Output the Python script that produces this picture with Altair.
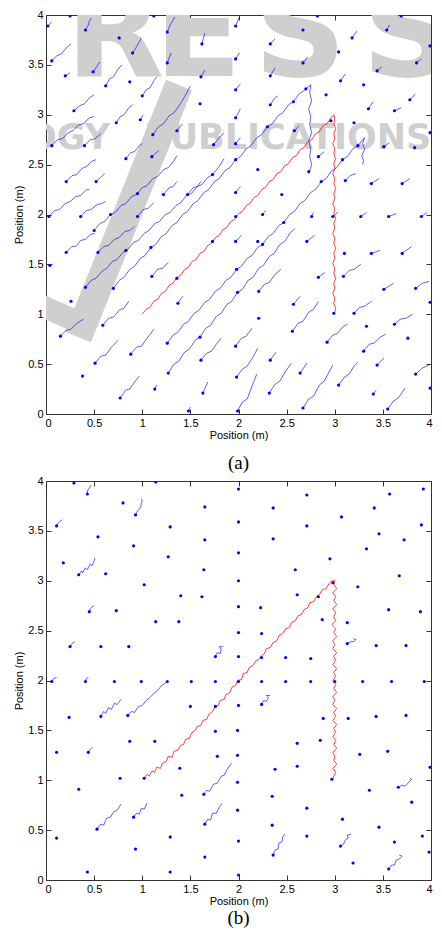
import altair as alt
import pandas as pd

# ---------------- values ----------------
TICKS = [0, 0.5, 1, 1.5, 2, 2.5, 3, 3.5, 4]
AXIS_TITLE = "Position (m)"
CAPTIONS = ["(a)", "(b)"]

# panel (a): blue trails (first point = agent dot)
A_LONG = [
    # upper long lines
    [(0.50, 1.84), (0.56, 1.91), (0.61, 1.93), (0.67, 2.00), (0.72, 2.02), (0.78, 2.09),
     (0.83, 2.11), (0.89, 2.18), (0.94, 2.20), (1.00, 2.27), (1.05, 2.29), (1.11, 2.36),
     (1.16, 2.38), (1.22, 2.45), (1.27, 2.47), (1.33, 2.54), (1.36, 2.59)],
    [(0.41, 1.27), (0.47, 1.34), (0.52, 1.36), (0.58, 1.43), (0.63, 1.46), (0.69, 1.53),
     (0.74, 1.55), (0.80, 1.62), (0.85, 1.65), (0.91, 1.72), (0.96, 1.74), (1.02, 1.81),
     (1.07, 1.84), (1.13, 1.91), (1.18, 1.93), (1.24, 2.00), (1.29, 2.02), (1.35, 2.09),
     (1.40, 2.12), (1.46, 2.19), (1.51, 2.21), (1.57, 2.28), (1.62, 2.30), (1.68, 2.37),
     (1.73, 2.40), (1.79, 2.47), (1.85, 2.56)],
    [(0.70, 1.26), (0.76, 1.34), (0.81, 1.37), (0.87, 1.45), (0.92, 1.48), (0.98, 1.56),
     (1.03, 1.59), (1.09, 1.67), (1.14, 1.70), (1.20, 1.78), (1.25, 1.81), (1.31, 1.89),
     (1.36, 1.92), (1.42, 2.00), (1.47, 2.03), (1.53, 2.11), (1.58, 2.14), (1.64, 2.22),
     (1.69, 2.25), (1.75, 2.33), (1.80, 2.36), (1.86, 2.44), (1.91, 2.47), (1.97, 2.55),
     (2.02, 2.58), (2.08, 2.66), (2.13, 2.69), (2.19, 2.77), (2.24, 2.80), (2.30, 2.88),
     (2.35, 2.91), (2.41, 2.99), (2.46, 3.02), (2.52, 3.10), (2.57, 3.13), (2.63, 3.21),
     (2.68, 3.24), (2.75, 3.30), (2.74, 3.22), (2.76, 3.14), (2.73, 3.06), (2.75, 2.98),
     (2.74, 2.90), (2.76, 2.82), (2.73, 2.74), (2.75, 2.66), (2.74, 2.58), (2.76, 2.50),
     (2.73, 2.41)],
    [(1.11, 2.80), (1.17, 2.88), (1.22, 2.91), (1.28, 2.99), (1.33, 3.02), (1.39, 3.10),
     (1.44, 3.18), (1.50, 3.29)],
    # lower long lines
    [(1.26, 0.71), (1.32, 0.79), (1.37, 0.82), (1.43, 0.90), (1.48, 0.93), (1.54, 1.01),
     (1.59, 1.04), (1.65, 1.12), (1.70, 1.15), (1.76, 1.23), (1.81, 1.26), (1.87, 1.34),
     (1.92, 1.37), (1.98, 1.45), (2.03, 1.48), (2.09, 1.56), (2.14, 1.59), (2.20, 1.67),
     (2.25, 1.70), (2.31, 1.78), (2.36, 1.81), (2.42, 1.89), (2.47, 1.92), (2.53, 2.00),
     (2.58, 2.03), (2.64, 2.11), (2.69, 2.14), (2.75, 2.22), (2.80, 2.25), (2.86, 2.33),
     (2.91, 2.36), (2.97, 2.44), (3.02, 2.47), (3.08, 2.55), (3.13, 2.58), (3.19, 2.66),
     (3.24, 2.69), (3.31, 2.77), (3.29, 2.71), (3.31, 2.65), (3.28, 2.59), (3.30, 2.54),
     (3.29, 2.50)],
    [(1.27, 0.41), (1.33, 0.50), (1.38, 0.53), (1.44, 0.62), (1.49, 0.65), (1.55, 0.74),
     (1.60, 0.77), (1.66, 0.86), (1.71, 0.89), (1.77, 0.98), (1.82, 1.01), (1.88, 1.10),
     (1.93, 1.13), (1.99, 1.22), (2.04, 1.25), (2.10, 1.34), (2.15, 1.37), (2.21, 1.46),
     (2.26, 1.49), (2.32, 1.58), (2.37, 1.61), (2.43, 1.70), (2.48, 1.73), (2.54, 1.82),
     (2.59, 1.86)],
]

A_TRAILS = [
    [(0.02, 3.89), (0.06, 3.93)],
    [(0.41, 3.85), (0.44, 3.90), (0.45, 3.94), (0.47, 3.97)],
    [(0.90, 3.62), (0.94, 3.68), (0.99, 3.77)],
    [(1.26, 3.83), (1.29, 3.90), (1.34, 3.98)],
    [(1.62, 3.71), (1.65, 3.82)],
    [(0.06, 3.54), (0.11, 3.59), (0.16, 3.61), (0.21, 3.67), (0.26, 3.71)],
    [(0.20, 3.39), (0.25, 3.42)],
    [(0.49, 3.43), (0.56, 3.53)],
    [(0.62, 3.29), (0.66, 3.36), (0.70, 3.38), (0.75, 3.46), (0.79, 3.50)],
    [(1.26, 3.52), (1.30, 3.62)],
    [(1.61, 3.38), (1.65, 3.45)],
    [(1.00, 3.19), (1.04, 3.25), (1.08, 3.27), (1.12, 3.34), (1.15, 3.38)],
    [(0.29, 3.04), (0.35, 3.09), (0.40, 3.11), (0.45, 3.17), (0.50, 3.20)],
    [(0.73, 2.92), (0.77, 2.98), (0.81, 3.00), (0.86, 3.07), (0.90, 3.10)],
    [(0.98, 2.95), (1.01, 3.00)],
    [(1.36, 2.84), (1.42, 2.91)],
    [(0.06, 2.69), (0.12, 2.75), (0.17, 2.76), (0.23, 2.82), (0.28, 2.84), (0.34, 2.90),
     (0.39, 2.91), (0.45, 2.97), (0.50, 2.98)],
    [(0.40, 2.69), (0.46, 2.75), (0.51, 2.76), (0.57, 2.81)],
    [(0.83, 2.56), (0.88, 2.62), (0.92, 2.63), (0.97, 2.69), (1.00, 2.71)],
    [(1.10, 2.58), (1.17, 2.64)],
    [(1.74, 2.70), (1.80, 2.77), (1.85, 2.82)],
    [(0.21, 2.33), (0.27, 2.39), (0.32, 2.40), (0.37, 2.46), (0.42, 2.48), (0.47, 2.53),
     (0.52, 2.55)],
    [(0.52, 2.33), (0.61, 2.41)],
    [(0.03, 1.98), (0.09, 2.04), (0.14, 2.05), (0.20, 2.11), (0.25, 2.13), (0.31, 2.18),
     (0.36, 2.19), (0.42, 2.25), (0.45, 2.25)],
    [(0.36, 1.98), (0.42, 2.04), (0.47, 2.05), (0.53, 2.10), (0.58, 2.11), (0.62, 2.13)],
    [(0.95, 1.98), (1.01, 2.05), (1.06, 2.06), (1.12, 2.12)],
    [(1.22, 2.20), (1.28, 2.27), (1.32, 2.28), (1.36, 2.33)],
    [(1.47, 2.20), (1.53, 2.27), (1.57, 2.28), (1.61, 2.33)],
    [(1.97, 3.89), (2.01, 3.98)],
    [(3.18, 3.77), (3.23, 3.84)],
    [(3.54, 3.85), (3.57, 3.90)],
    [(2.33, 3.71), (2.38, 3.76)],
    [(1.97, 3.56), (2.01, 3.62)],
    [(2.67, 3.52), (2.72, 3.58)],
    [(3.85, 3.52), (3.90, 3.56)],
    [(2.33, 3.39), (2.38, 3.47)],
    [(3.06, 3.34), (3.11, 3.41)],
    [(3.44, 3.44), (3.49, 3.48)],
    [(1.97, 3.25), (2.02, 3.31)],
    [(2.33, 3.10), (2.37, 3.16), (2.41, 3.19)],
    [(3.78, 3.15), (3.84, 3.21)],
    [(3.35, 3.06), (3.40, 3.13)],
    [(3.62, 3.04), (3.69, 3.07)],
    [(1.97, 2.97), (2.02, 3.06)],
    [(2.58, 2.84), (2.63, 2.89)],
    [(1.97, 2.71), (2.02, 2.77)],
    [(3.51, 2.68), (3.57, 2.72)],
    [(2.83, 2.58), (2.89, 2.63)],
    [(1.97, 2.22), (2.02, 2.28)],
    [(3.11, 2.34), (3.16, 2.39), (3.22, 2.41)],
    [(3.38, 2.31), (3.46, 2.36)],
    [(3.70, 2.31), (3.78, 2.36)],
    [(2.25, 2.00), (2.28, 2.04)],
    [(2.76, 1.98), (2.78, 2.02)],
    [(3.27, 1.98), (3.33, 2.02)],
    [(3.56, 1.98), (3.64, 2.01)],
    [(3.90, 1.98), (3.96, 2.02)],
    [(0.04, 1.49), (0.07, 1.50)],
    [(0.21, 1.62), (0.27, 1.68), (0.31, 1.68), (0.36, 1.74), (0.41, 1.75), (0.46, 1.80),
     (0.51, 1.81)],
    [(0.54, 1.62), (0.60, 1.68), (0.65, 1.69), (0.71, 1.75), (0.76, 1.77), (0.82, 1.83),
     (0.87, 1.84), (0.92, 1.88)],
    [(0.15, 0.78), (0.21, 0.84), (0.26, 0.85), (0.32, 0.91), (0.39, 0.95)],
    [(0.59, 0.89), (0.65, 0.96), (0.70, 0.97), (0.76, 1.04), (0.81, 1.06), (0.86, 1.13)],
    [(1.10, 1.38), (1.16, 1.45), (1.21, 1.46), (1.27, 1.52)],
    [(1.37, 1.11), (1.42, 1.18)],
    [(0.51, 0.51), (0.57, 0.58), (0.62, 0.59), (0.68, 0.67), (0.75, 0.74)],
    [(0.88, 0.60), (0.94, 0.67), (0.99, 0.68), (1.05, 0.76), (1.12, 0.85)],
    [(1.61, 0.54), (1.67, 0.61), (1.72, 0.63), (1.77, 0.70), (1.82, 0.76)],
    [(0.77, 0.16), (0.83, 0.24), (0.87, 0.25), (0.92, 0.32), (0.97, 0.38)],
    [(1.13, 0.25), (1.15, 0.29)],
    [(1.63, 0.21), (1.68, 0.32)],
    [(1.48, 0.03), (1.50, 0.07)],
    [(2.21, 1.23), (2.27, 1.30), (2.32, 1.32), (2.38, 1.40), (2.44, 1.45)],
    [(1.97, 0.68), (2.03, 0.76), (2.08, 0.78), (2.14, 0.86)],
    [(1.98, 0.37), (2.04, 0.45), (2.09, 0.48), (2.15, 0.57), (2.20, 0.66)],
    [(1.99, 0.03), (2.04, 0.12), (2.09, 0.15), (2.14, 0.28), (2.19, 0.40)],
    [(2.32, 0.21), (2.38, 0.30), (2.43, 0.33), (2.49, 0.43), (2.55, 0.51)],
    [(2.33, 0.54), (2.39, 0.62)],
    [(2.56, 0.83), (2.62, 0.91), (2.67, 0.93), (2.73, 1.02), (2.78, 1.05), (2.83, 1.13)],
    [(2.57, 1.10), (2.64, 1.18)],
    [(2.64, 0.41), (2.71, 0.51)],
    [(2.67, 0.06), (2.73, 0.15), (2.78, 0.18), (2.84, 0.29), (2.89, 0.33), (2.94, 0.42),
     (2.98, 0.49)],
    [(2.83, 1.37), (2.90, 1.42)],
    [(2.92, 0.72), (2.98, 0.79), (3.03, 0.81), (3.08, 0.87), (3.13, 0.90)],
    [(1.97, 1.73), (2.03, 1.79)],
    [(2.71, 1.73), (2.79, 1.79)],
    [(3.38, 1.61), (3.47, 1.64)],
    [(3.70, 1.61), (3.80, 1.68)],
    [(3.09, 1.38), (3.15, 1.44), (3.20, 1.45), (3.27, 1.50)],
    [(3.51, 1.25), (3.61, 1.31)],
    [(3.84, 1.26), (3.91, 1.31), (3.98, 1.33)],
    [(3.20, 1.01), (3.26, 1.07), (3.31, 1.08), (3.38, 1.13)],
    [(3.62, 0.90), (3.68, 0.95), (3.74, 0.96), (3.81, 1.00)],
    [(3.30, 0.63), (3.36, 0.70), (3.41, 0.71), (3.47, 0.77), (3.53, 0.80)],
    [(3.44, 0.49), (3.51, 0.56)],
    [(3.84, 0.40), (3.91, 0.46), (3.98, 0.49)],
    [(3.04, 0.29), (3.10, 0.37), (3.15, 0.40), (3.20, 0.48), (3.24, 0.52)],
    [(3.40, 0.20), (3.43, 0.24)],
    [(3.55, 0.05), (3.61, 0.13), (3.66, 0.16), (3.73, 0.26)],
    [(2.98, 1.98), (3.03, 2.02)],
]

A_DOTS = [
    (0.25, 3.99), (0.76, 3.77), (1.12, 3.99), (0.87, 3.33), (1.60, 3.11),
    (2.82, 3.99), (3.69, 3.99), (2.67, 3.85), (3.04, 3.63), (3.99, 3.69),
    (3.30, 3.30), (2.91, 3.20), (3.20, 2.92), (3.83, 2.67), (3.99, 2.82),
    (2.20, 2.45), (2.45, 2.20), (0.26, 1.13), (0.38, 0.38), (3.10, 1.61),
    (3.99, 1.12), (2.21, 0.96), (3.33, 0.88), (3.76, 0.76), (3.99, 0.26),
    (0.67, 2.00), (0.95, 2.21), (0.83, 1.64), (1.73, 2.40), (1.97, 2.55),
    (2.30, 2.88), (2.57, 3.13), (2.70, 3.26), (2.73, 2.43), (1.36, 1.36),
    (1.73, 1.73), (1.97, 1.98), (1.98, 1.45), (2.25, 1.70), (2.47, 1.92),
    (2.86, 2.33), (3.08, 2.55), (3.24, 2.69), (2.96, 2.94), (2.20, 1.73),
    (2.99, 1.01), (1.09, 1.67), (1.60, 0.77), (1.99, 1.22),
]

A_RED = [
    (1.00, 1.00), (1.04, 1.05), (1.08, 1.07), (1.12, 1.13), (1.16, 1.15), (1.20, 1.21),
    (1.24, 1.23), (1.28, 1.29), (1.32, 1.31), (1.36, 1.37), (1.40, 1.39), (1.44, 1.45),
    (1.48, 1.47), (1.52, 1.53), (1.56, 1.55), (1.60, 1.61), (1.64, 1.63), (1.68, 1.69),
    (1.72, 1.71), (1.76, 1.77), (1.80, 1.79), (1.84, 1.85), (1.88, 1.87), (1.92, 1.93),
    (1.96, 1.95), (2.00, 2.01), (2.04, 2.03), (2.08, 2.09), (2.12, 2.11), (2.16, 2.17),
    (2.20, 2.19), (2.24, 2.25), (2.28, 2.27), (2.32, 2.33), (2.36, 2.35), (2.40, 2.41),
    (2.44, 2.43), (2.48, 2.49), (2.52, 2.51), (2.56, 2.57), (2.60, 2.59), (2.64, 2.65),
    (2.68, 2.67), (2.72, 2.73), (2.76, 2.75), (2.80, 2.81), (2.84, 2.83), (2.88, 2.89),
    (2.92, 2.91), (2.96, 2.97), (2.99, 3.00),
    (3.00, 2.96), (2.99, 2.91), (3.01, 2.86), (2.99, 2.81), (3.00, 2.76), (2.98, 2.71),
    (3.00, 2.66), (2.99, 2.61), (3.01, 2.56), (2.99, 2.51), (3.00, 2.46), (2.98, 2.41),
    (3.00, 2.36), (2.99, 2.31), (3.01, 2.26), (2.99, 2.21), (3.00, 2.16), (2.98, 2.11),
    (3.00, 2.06), (2.99, 2.01), (3.01, 1.96), (2.99, 1.91), (3.00, 1.86), (2.98, 1.81),
    (3.00, 1.76), (2.99, 1.71), (3.01, 1.66), (2.99, 1.61), (3.00, 1.56), (2.98, 1.51),
    (3.00, 1.46), (2.99, 1.41), (3.01, 1.36), (2.99, 1.31), (3.00, 1.26), (2.98, 1.21),
    (3.00, 1.16), (2.99, 1.11), (3.01, 1.06), (3.00, 1.02),
]

# panel (b)
B_TRAILS = [
    [(0.43, 3.87), (0.43, 3.90), (0.45, 3.93), (0.47, 3.96)],
    [(0.93, 3.66), (0.95, 3.70), (0.98, 3.73), (0.99, 3.77), (1.00, 3.80), (0.99, 3.82)],
    [(0.11, 3.55), (0.13, 3.58), (0.15, 3.60), (0.17, 3.61)],
    [(1.29, 3.54), (1.30, 3.56)],
    [(0.34, 3.06), (0.37, 3.10), (0.38, 3.08), (0.41, 3.13), (0.43, 3.11),
     (0.46, 3.17), (0.48, 3.15), (0.50, 3.20), (0.51, 3.23)],
    [(0.45, 2.69), (0.46, 2.72), (0.48, 2.74), (0.50, 2.75)],
    [(0.25, 2.34), (0.27, 2.37), (0.30, 2.39)],
    [(0.06, 1.99), (0.08, 2.02), (0.11, 2.03)],
    [(0.41, 1.99), (0.42, 2.02), (0.44, 2.03)],
    [(0.57, 1.64), (0.60, 1.69), (0.62, 1.67), (0.65, 1.73), (0.68, 1.71),
     (0.71, 1.77), (0.74, 1.76), (0.78, 1.81)],
    [(0.85, 1.65), (0.89, 1.69), (0.92, 1.68), (0.96, 1.74), (1.00, 1.75),
     (1.04, 1.80), (1.08, 1.83), (1.12, 1.87), (1.16, 1.90), (1.20, 1.95), (1.25, 1.98)],
    [(1.76, 2.24), (1.78, 2.28), (1.81, 2.27), (1.82, 2.31), (1.80, 2.34), (1.84, 2.34)],
    [(2.24, 1.76), (2.26, 1.80), (2.29, 1.79), (2.31, 1.83), (2.29, 1.85), (2.33, 1.85)],
    [(0.44, 1.28), (0.46, 1.31), (0.48, 1.33)],
    [(1.64, 0.86), (1.67, 0.90), (1.70, 0.89), (1.74, 0.96), (1.78, 0.97),
     (1.82, 1.04), (1.85, 1.05), (1.89, 1.12), (1.93, 1.17)],
    [(0.53, 0.51), (0.57, 0.56), (0.60, 0.55), (0.63, 0.62), (0.67, 0.63),
     (0.70, 0.68), (0.74, 0.70), (0.78, 0.76)],
    [(0.91, 0.63), (0.94, 0.67), (0.97, 0.66), (0.99, 0.72), (1.02, 0.71), (1.05, 0.77)],
    [(1.65, 0.56), (1.68, 0.61), (1.71, 0.60), (1.73, 0.67), (1.77, 0.67),
     (1.80, 0.73), (1.83, 0.77)],
    [(1.29, 0.43), (1.30, 0.45)],
    [(3.13, 2.37), (3.17, 2.39), (3.20, 2.39), (3.22, 2.41), (3.19, 2.42)],
    [(3.66, 0.93), (3.70, 0.95), (3.73, 0.94), (3.77, 0.98), (3.80, 1.01), (3.78, 1.02)],
    [(3.06, 0.34), (3.09, 0.36), (3.11, 0.40), (3.14, 0.42), (3.13, 0.45), (3.17, 0.46)],
    [(2.36, 0.25), (2.38, 0.30), (2.41, 0.31), (2.42, 0.37), (2.45, 0.38),
     (2.46, 0.43), (2.48, 0.46)],
    [(3.56, 0.11), (3.59, 0.15), (3.62, 0.15), (3.64, 0.20), (3.67, 0.21),
     (3.70, 0.24), (3.67, 0.25)],
]

B_DOTS = [
    (0.29, 3.98), (1.14, 3.99), (0.80, 3.78), (1.65, 3.74), (0.54, 3.44), (1.65, 3.41),
    (0.91, 3.35), (1.27, 3.24), (0.18, 3.18), (0.62, 3.07), (1.64, 3.11), (1.02, 2.96),
    (1.40, 2.85), (1.62, 2.84), (0.73, 2.70), (1.14, 2.59), (1.38, 2.59), (0.57, 2.34),
    (0.86, 2.34), (0.71, 1.99), (0.99, 1.99), (1.26, 1.99), (1.51, 1.99), (1.76, 1.99),
    (2.00, 3.92), (2.71, 3.86), (3.57, 3.87), (3.92, 3.92), (2.36, 3.73), (3.41, 3.73),
    (3.07, 3.64), (2.00, 3.59), (2.71, 3.55), (3.90, 3.56), (3.46, 3.47), (2.36, 3.42),
    (3.72, 3.41), (3.33, 3.32), (2.00, 3.28), (2.95, 3.22), (2.59, 3.11), (3.67, 3.05),
    (3.24, 2.94), (2.98, 2.98), (2.00, 3.00), (2.61, 2.86), (2.83, 2.84), (2.00, 2.74),
    (2.23, 2.73), (3.56, 2.71), (3.89, 2.69), (2.87, 2.61), (3.13, 2.58), (2.00, 2.48),
    (2.24, 2.47), (3.43, 2.35), (3.74, 2.35), (2.00, 2.24), (2.24, 2.23), (2.49, 2.23),
    (2.75, 2.22), (2.00, 1.99), (2.24, 1.99), (2.49, 1.99), (2.75, 1.99), (3.00, 1.99),
    (3.29, 1.99), (3.59, 1.99), (3.93, 1.99), (0.24, 1.63), (1.50, 1.74), (1.76, 1.74),
    (2.00, 1.75), (0.87, 1.39), (1.13, 1.39), (1.76, 1.49), (1.99, 1.50), (0.11, 1.28),
    (1.39, 1.12), (1.78, 1.24), (1.99, 1.25), (2.38, 1.11), (0.77, 1.02), (1.02, 1.02),
    (1.99, 0.98), (0.34, 0.91), (1.41, 0.85), (2.35, 0.84), (1.99, 0.70), (2.35, 0.55),
    (0.11, 0.42), (0.93, 0.31), (1.65, 0.23), (0.43, 0.08), (1.29, 0.08), (2.88, 1.62),
    (3.14, 1.62), (3.43, 1.64), (3.74, 1.65), (2.61, 1.37), (2.85, 1.40), (3.26, 1.26),
    (3.55, 1.29), (2.61, 1.14), (3.99, 1.13), (2.97, 1.01), (3.36, 0.90), (3.80, 0.78),
    (2.71, 0.72), (3.08, 0.61), (3.46, 0.53), (2.71, 0.44), (2.00, 0.39), (3.62, 0.38),
    (3.91, 0.44), (3.98, 0.28), (3.19, 0.17), (2.00, 0.05),
]

B_RED = [
    (1.02, 1.02), (1.05, 1.06), (1.07, 1.04), (1.10, 1.09), (1.13, 1.08), (1.15, 1.13),
    (1.19, 1.12), (1.21, 1.17), (1.25, 1.19), (1.27, 1.24), (1.31, 1.23), (1.33, 1.29),
    (1.37, 1.30), (1.40, 1.35), (1.43, 1.36), (1.45, 1.41), (1.49, 1.42), (1.51, 1.47),
    (1.55, 1.50), (1.57, 1.54), (1.61, 1.55), (1.63, 1.60), (1.67, 1.61), (1.69, 1.66),
    (1.73, 1.69), (1.76, 1.74), (1.79, 1.75), (1.81, 1.80), (1.85, 1.81), (1.87, 1.86),
    (1.91, 1.88), (1.93, 1.93), (1.97, 1.95), (1.99, 2.00), (2.03, 2.01), (2.05, 2.07),
    (2.09, 2.08), (2.11, 2.13), (2.15, 2.15), (2.18, 2.20), (2.21, 2.21), (2.24, 2.25),
    (2.27, 2.27), (2.29, 2.32), (2.33, 2.33), (2.36, 2.38), (2.40, 2.40), (2.42, 2.45),
    (2.46, 2.47), (2.49, 2.52), (2.53, 2.53), (2.55, 2.58), (2.59, 2.60), (2.62, 2.65),
    (2.65, 2.66), (2.68, 2.71), (2.72, 2.73), (2.74, 2.78), (2.78, 2.79), (2.81, 2.84),
    (2.84, 2.86), (2.87, 2.91), (2.91, 2.92), (2.94, 2.97), (2.97, 3.00),
    (3.00, 3.00), (2.99, 2.96), (3.02, 2.92), (2.98, 2.88), (3.01, 2.84), (2.99, 2.80),
    (3.02, 2.76), (2.98, 2.72), (3.01, 2.68), (2.99, 2.64), (3.01, 2.60), (2.97, 2.56),
    (3.01, 2.52), (2.99, 2.48), (3.02, 2.44), (2.98, 2.40), (3.00, 2.36), (2.98, 2.32),
    (3.02, 2.28), (2.99, 2.24), (3.01, 2.20), (2.98, 2.16), (3.02, 2.12), (2.99, 2.08),
    (3.01, 2.04), (2.98, 2.00), (3.01, 1.96), (2.99, 1.92), (3.02, 1.88), (2.98, 1.84),
    (3.00, 1.80), (2.98, 1.76), (3.02, 1.72), (2.99, 1.68), (3.01, 1.64), (2.98, 1.60),
    (3.02, 1.56), (2.99, 1.52), (3.01, 1.48), (2.98, 1.44), (3.01, 1.40), (2.99, 1.36),
    (3.02, 1.32), (2.98, 1.28), (3.00, 1.24), (2.99, 1.20), (3.02, 1.16), (2.98, 1.12),
    (3.01, 1.08), (2.99, 1.04), (2.98, 1.01),
]

# watermark text (publisher stamp over panel a)
WM_BIG = ["R", "E", "S", "S"]
WM_BAND = ["TECHNOLOGY", "PUBLICATIONS"]

# ---------------- chart construction ----------------
W, H = 385, 399
SX = W / 393.0
BLUE, RED, WM = "#0000ff", "#ff0000", "#cfcfcf"
FONT = "Liberation Sans"
ONE = pd.DataFrame({"k": [0]})


def tick_axis(orient, offset):
    return alt.Axis(orient=orient, offset=offset, values=TICKS, labels=False,
                    domain=False, ticks=True, tickSize=5, tickColor="#333333",
                    tickWidth=1, grid=False, title=None)


def main_axis(title_pad, flush):
    extra = dict(labelFlush=True, labelFlushOffset=1) if flush else {}
    return alt.Axis(values=TICKS, format="~g", ticks=False, domain=False, grid=False,
                    labelFont=FONT, labelFontSize=11, labelColor="#000000",
                    labelPadding=3, title=AXIS_TITLE, titleFont=FONT,
                    titleFontSize=11, titleFontWeight="normal",
                    titleColor="#000000", titlePadding=title_pad, **extra)


def watermark_layers():
    layers = []
    big_x = [70, 155, 259, 370]
    for ch, px in zip(WM_BIG, big_x):
        layers.append(alt.Chart(ONE).mark_text(
            text=ch, font="DejaVu Sans", fontWeight="bold", fontSize=128,
            color=WM, align="center", baseline="alphabetic", clip=True
        ).encode(x=alt.value(round(px * SX)), y=alt.value(61)))
    layers.append(alt.Chart(ONE).mark_text(
        text=WM_BAND[0], font="DejaVu Sans", fontWeight="bold", fontSize=35,
        color=WM, align="right", baseline="alphabetic", clip=True
    ).encode(x=alt.value(round(65 * SX)), y=alt.value(134)))
    layers.append(alt.Chart(ONE).mark_text(
        text=WM_BAND[1], font="DejaVu Sans", fontWeight="bold", fontSize=35,
        color=WM, align="left", baseline="alphabetic", clip=True
    ).encode(x=alt.value(round(100 * SX)), y=alt.value(134)))
    layers.append(alt.Chart(ONE).mark_rule(color=WM, strokeWidth=28, clip=True).encode(
        x=alt.value(round(33 * SX)), y=alt.value(322),
        x2=alt.value(round(136 * SX)), y2=alt.value(70)))
    layers.append(alt.Chart(ONE).mark_rule(color=WM, strokeWidth=22, clip=True).encode(
        x=alt.value(-60), y=alt.value(266), x2=alt.value(round(40 * SX)), y2=alt.value(310)))
    return layers


def make_panel(trails, dots, red, caption, cap_offset, watermark):
    xs = alt.Scale(domain=[0, 4], nice=False, zero=False)
    ys = alt.Scale(domain=[0, 4], nice=False, zero=False)
    trail_df = pd.DataFrame([{"id": k, "i": i, "x": x, "y": y}
                             for k, tr in enumerate(trails)
                             for i, (x, y) in enumerate(tr)])
    dot_df = pd.DataFrame([{"x": x, "y": y}
                           for x, y in list(dots) + [tr[0] for tr in trails]])
    red_df = pd.DataFrame([{"i": i, "x": x, "y": y} for i, (x, y) in enumerate(red)])

    blue_lines = alt.Chart(trail_df).mark_line(
        color=BLUE, strokeWidth=0.9, opacity=0.7, clip=True
    ).encode(
        x=alt.X("x:Q", scale=xs, axis=main_axis(1, True)),
        y=alt.Y("y:Q", scale=ys, axis=main_axis(3, False)),
        detail="id:N", order="i:Q")
    red_line = alt.Chart(red_df).mark_line(
        color=RED, strokeWidth=0.9, opacity=0.85, clip=True
    ).encode(
        x=alt.X("x:Q", scale=xs, axis=tick_axis("top", -H)),
        y=alt.Y("y:Q", scale=ys, axis=tick_axis("right", -W)),
        order="i:Q")
    pts = alt.Chart(dot_df).mark_circle(
        color=BLUE, size=10, opacity=1, clip=True
    ).encode(
        x=alt.X("x:Q", scale=xs, axis=tick_axis("bottom", -H)),
        y=alt.Y("y:Q", scale=ys, axis=tick_axis("left", -W)))

    layers = (watermark_layers() if watermark else []) + [blue_lines, red_line, pts]
    return alt.layer(*layers).resolve_axis(
        x="independent", y="independent"
    ).properties(
        width=W, height=H,
        title=alt.TitleParams(caption, orient="bottom", font="Liberation Serif",
                              fontSize=19, fontWeight="normal", color="#000000",
                              anchor="middle", frame="group", offset=cap_offset))


panel_a = make_panel(A_LONG + A_TRAILS, A_DOTS, A_RED, CAPTIONS[0], 14, True)
panel_b = make_panel(B_TRAILS, B_DOTS, B_RED, CAPTIONS[1], 3, False)

chart = alt.vconcat(panel_a, panel_b, spacing=0).properties(
    padding={"left": 5, "top": 0, "right": 0, "bottom": 0},
    background="#ffffff",
).configure_view(stroke="#333333", strokeWidth=1).configure_axis(grid=False)

chart.save("out.html", embed_options={"renderer": "svg", "actions": False})
